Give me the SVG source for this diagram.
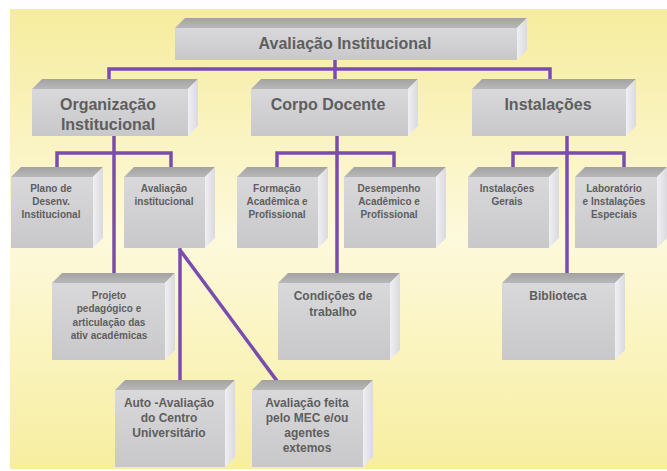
<svg xmlns="http://www.w3.org/2000/svg" width="667" height="471" viewBox="0 0 667 471">
  <defs>
    <linearGradient id="bg" x1="0" y1="0" x2="0" y2="1">
      <stop offset="0" stop-color="#f6ec9e"/>
      <stop offset="0.5" stop-color="#fdf9dc"/>
      <stop offset="1" stop-color="#f7ee9f"/>
    </linearGradient>
    <linearGradient id="front" x1="0" y1="0" x2="0" y2="1">
      <stop offset="0" stop-color="#d9d9db"/>
      <stop offset="1" stop-color="#c8c8ca"/>
    </linearGradient>
    <linearGradient id="topf" x1="0" y1="0" x2="0" y2="1">
      <stop offset="0" stop-color="#a2a2a2"/>
      <stop offset="1" stop-color="#b8b8b8"/>
    </linearGradient>
    <linearGradient id="side" x1="0" y1="0" x2="1" y2="0">
      <stop offset="0" stop-color="#f0f0f4"/>
      <stop offset="1" stop-color="#dadade"/>
    </linearGradient>
  </defs>
  <style>
    .f { fill: url(#front); }
    .t { fill: url(#topf); }
    .s { fill: url(#side); }
    .c { stroke: #7a4cb0; stroke-width: 3.5; fill: none; stroke-linecap: square; }
    text { font-family: "Liberation Sans", Arial, sans-serif; font-weight: bold; fill: #5e5e5e; text-anchor: middle; }
    .l1 { font-size: 16px; }
    .l2 { font-size: 16px; }
    .l3 { font-size: 10px; }
    .l4 { font-size: 12px; }
  </style>
  <rect x="0" y="0" width="667" height="471" fill="#ffffff"/>
  <rect x="10" y="9" width="657" height="460" fill="url(#bg)"/>

  <g id="connectors">
    <path class="c" d="M335 60 V80 M109 69 H550 M109 69 V80 M550 69 V80"/>
    <path class="c" d="M114 136 V273 M57 153 H171 M57 153 V167 M171 153 V167"/>
    <path class="c" d="M337 136 V273 M277 153 H394 M277 153 V167 M394 153 V167"/>
    <path class="c" d="M567 136 V273 M513 153 H624 M513 153 V167 M624 153 V167"/>
    <path class="c" d="M180 250 V380 M180 250 L277 381"/>
  </g>

  <g id="n-top">
    <polygon class="t" points="175,28 185,18 527,18 517,28"/>
    <polygon class="s" points="517,28 527,18 527,50 517,60"/>
    <rect class="f" x="175" y="28" width="342" height="32"/>
    <text class="l1" x="345" y="49">Avaliação Institucional</text>
  </g>

  <g id="n-org">
    <polygon class="t" points="32,89 42,79 198,79 188,89"/>
    <polygon class="s" points="188,89 198,79 198,126 188,136"/>
    <rect class="f" x="32" y="89" width="156" height="47"/>
    <text class="l2" x="108" y="110">Organização</text>
    <text class="l2" x="108" y="130">Institucional</text>
  </g>

  <g id="n-corpo">
    <polygon class="t" points="251,89 261,79 418,79 408,89"/>
    <polygon class="s" points="408,89 418,79 418,126 408,136"/>
    <rect class="f" x="251" y="89" width="157" height="47"/>
    <text class="l2" x="328" y="110">Corpo Docente</text>
  </g>

  <g id="n-inst">
    <polygon class="t" points="472,89 482,79 636,79 626,89"/>
    <polygon class="s" points="626,89 636,79 636,126 626,136"/>
    <rect class="f" x="472" y="89" width="154" height="47"/>
    <text class="l2" x="548" y="110">Instalações</text>
  </g>

  <g id="n-plano">
    <polygon class="t" points="11,177 21,167 103,167 93,177"/>
    <polygon class="s" points="93,177 103,167 103,238 93,248"/>
    <rect class="f" x="11" y="177" width="82" height="71"/>
    <text class="l3" x="51" y="192">Plano de</text>
    <text class="l3" x="51" y="205">Desenv.</text>
    <text class="l3" x="51" y="218">Institucional</text>
  </g>

  <g id="n-avalinst">
    <polygon class="t" points="124,177 134,167 215,167 205,177"/>
    <polygon class="s" points="205,177 215,167 215,238 205,248"/>
    <rect class="f" x="124" y="177" width="81" height="71"/>
    <text class="l3" x="164" y="192">Avaliação</text>
    <text class="l3" x="164" y="205">institucional</text>
  </g>

  <g id="n-formacao">
    <polygon class="t" points="237,177 247,167 328,167 318,177"/>
    <polygon class="s" points="318,177 328,167 328,238 318,248"/>
    <rect class="f" x="237" y="177" width="81" height="71"/>
    <text class="l3" x="277" y="192">Formação</text>
    <text class="l3" x="277" y="205">Acadêmica e</text>
    <text class="l3" x="277" y="218">Profissional</text>
  </g>

  <g id="n-desempenho">
    <polygon class="t" points="344,177 354,167 446,167 436,177"/>
    <polygon class="s" points="436,177 446,167 446,238 436,248"/>
    <rect class="f" x="344" y="177" width="92" height="71"/>
    <text class="l3" x="389" y="192">Desempenho</text>
    <text class="l3" x="389" y="205">Acadêmico e</text>
    <text class="l3" x="389" y="218">Profissional</text>
  </g>

  <g id="n-gerais">
    <polygon class="t" points="468,177 478,167 559,167 549,177"/>
    <polygon class="s" points="549,177 559,167 559,238 549,248"/>
    <rect class="f" x="468" y="177" width="81" height="71"/>
    <text class="l3" x="507" y="192">Instalações</text>
    <text class="l3" x="507" y="205">Gerais</text>
  </g>

  <g id="n-lab">
    <polygon class="t" points="575,177 585,167 667,167 657,177"/>
    <polygon class="s" points="657,177 667,167 667,238 657,248"/>
    <rect class="f" x="575" y="177" width="82" height="71"/>
    <text class="l3" x="614" y="192">Laboratório</text>
    <text class="l3" x="614" y="205">e Instalações</text>
    <text class="l3" x="614" y="218">Especiais</text>
  </g>

  <g id="n-projeto">
    <polygon class="t" points="52,283 62,273 175,273 165,283"/>
    <polygon class="s" points="165,283 175,273 175,350 165,360"/>
    <rect class="f" x="52" y="283" width="113" height="77"/>
    <text class="l3" x="109" y="299">Projeto</text>
    <text class="l3" x="109" y="312">pedagógico e</text>
    <text class="l3" x="109" y="326">articulação das</text>
    <text class="l3" x="109" y="339">ativ acadêmicas</text>
  </g>

  <g id="n-condicoes">
    <polygon class="t" points="278,283 288,273 400,273 390,283"/>
    <polygon class="s" points="390,283 400,273 400,350 390,360"/>
    <rect class="f" x="278" y="283" width="112" height="77"/>
    <text class="l4" x="333" y="300">Condições de</text>
    <text class="l4" x="333" y="316">trabalho</text>
  </g>

  <g id="n-biblioteca">
    <polygon class="t" points="502,283 512,273 625,273 615,283"/>
    <polygon class="s" points="615,283 625,273 625,350 615,360"/>
    <rect class="f" x="502" y="283" width="113" height="77"/>
    <text class="l4" x="558" y="300">Biblioteca</text>
  </g>

  <g id="n-auto">
    <polygon class="t" points="115,390 125,380 235,380 225,390"/>
    <polygon class="s" points="225,390 235,380 235,457 225,467"/>
    <rect class="f" x="115" y="390" width="110" height="77"/>
    <text class="l4" x="169" y="407">Auto -Avaliação</text>
    <text class="l4" x="169" y="422">do Centro</text>
    <text class="l4" x="169" y="437">Universitário</text>
  </g>

  <g id="n-mec">
    <polygon class="t" points="252,390 262,380 373,380 363,390"/>
    <polygon class="s" points="363,390 373,380 373,457 363,467"/>
    <rect class="f" x="252" y="390" width="111" height="77"/>
    <text class="l4" x="307" y="407">Avaliação feita</text>
    <text class="l4" x="307" y="422">pelo MEC e/ou</text>
    <text class="l4" x="307" y="437">agentes</text>
    <text class="l4" x="307" y="452">extemos</text>
  </g>
</svg>
